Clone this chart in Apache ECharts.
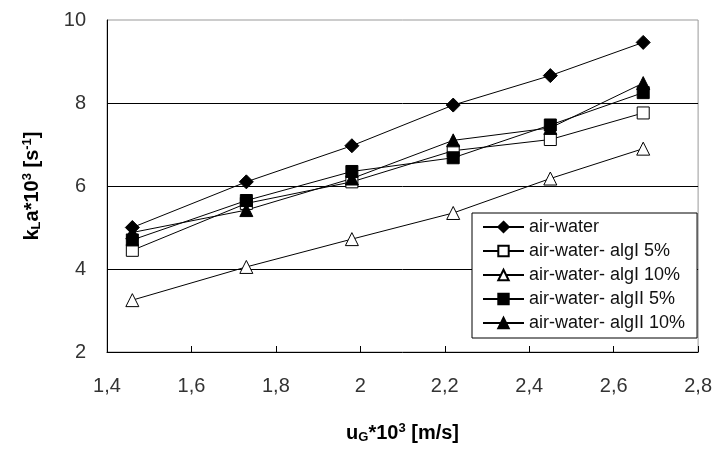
<!DOCTYPE html>
<html>
<head>
<meta charset="utf-8">
<title>kLa vs uG</title>
<script src="https://cdn.jsdelivr.net/npm/echarts@6/dist/echarts.min.js"></script>
<style>
  html, body { margin: 0; padding: 0; background: #fff; }
  #chart { width: 715px; height: 450px; }
</style>
</head>
<body>
<div id="chart"></div>
<script>
// gas velocity uG*10^3 [m/s]
var ug = [1.46, 1.73, 1.98, 2.22, 2.45, 2.67]

// kLa*10^3 [s^-1]
var airWater = [5.0, 6.1, 6.97, 7.95, 8.66, 9.46]
var algI5 = [4.45, 5.58, 6.1, 6.85, 7.12, 7.76]
var algI10 = [3.25, 4.05, 4.72, 5.35, 6.18, 6.9]
var algII5 = [4.7, 5.65, 6.35, 6.68, 7.47, 8.25]
var algII10 = [4.88, 5.42, 6.18, 7.1, 7.4, 8.48]

var seriesNames = ['air-water', 'air-water- algI 5%', 'air-water- algI 10%', 'air-water- algII 5%', 'air-water- algII 10%']

var FONT = 'Liberation Sans, Arial, sans-serif'

function pairs(ys) {
  return ug.map(function (x, i) { return [x, ys[i]] })
}

function makeSeries(name, ys, symbol, filled, size) {
  return {
    name: name,
    type: 'line',
    data: pairs(ys),
    symbol: symbol,
    symbolSize: size,
    showAllSymbol: true,
    lineStyle: { color: '#000', width: 1 },
    itemStyle: { color: filled ? '#000' : '#fff', borderColor: '#000', borderWidth: 1 },
    emphasis: { disabled: true },
    animation: false
  }
}

// bold title text with sub/superscripts
var titleRich = {
  b: { fontFamily: FONT, fontSize: 20, fontWeight: 'bold', color: '#000' },
  sub: { fontFamily: FONT, fontSize: 13, fontWeight: 'bold', color: '#000', verticalAlign: 'bottom', padding: [9, 0, 0, 0] },
  sup: { fontFamily: FONT, fontSize: 13, fontWeight: 'bold', color: '#000', verticalAlign: 'top', padding: [0, 0, 9, 0] }
}

var chart = echarts.init(document.getElementById('chart'))

chart.setOption({
  backgroundColor: '#fff',
  animation: false,
  grid: {
    left: 107, right: 15, top: 20, bottom: 98,
    show: true, borderColor: '#999', borderWidth: 1
  },
  legend: {
    left: 472, top: 213,
    orient: 'vertical',
    backgroundColor: '#fff',
    borderColor: '#000', borderWidth: 1,
    borderRadius: 0,
    padding: [5, 12, 6, 10],
    itemGap: 6,
    itemWidth: 41, itemHeight: 13,
    textStyle: { fontFamily: FONT, fontSize: 18, color: '#111' },
    data: seriesNames
  },
  xAxis: {
    type: 'value',
    min: 1.4, max: 2.8, interval: 0.2,
    axisLine: { onZero: false, lineStyle: { color: '#000', width: 1 } },
    axisTick: { inside: true, length: 6, lineStyle: { color: '#000' } },
    splitLine: { show: false },
    axisLabel: {
      margin: 24,
      fontFamily: FONT, fontSize: 20, color: '#333',
      formatter: function (v) { return String(Math.round(v * 10) / 10).replace('.', ',') }
    },
    name: '{b|u}{sub|G}{b|*10}{sup|3}{b| [m/s]}',
    nameLocation: 'middle',
    nameGap: 70,
    nameTextStyle: { rich: titleRich }
  },
  yAxis: {
    type: 'value',
    min: 2, max: 10, interval: 2,
    axisLine: { show: true, onZero: false, lineStyle: { color: '#000', width: 1 } },
    axisTick: { show: false },
    splitLine: { show: true, showMinLine: false, showMaxLine: false, lineStyle: { color: '#000', width: 1 } },
    axisLabel: { margin: 21, fontFamily: FONT, fontSize: 20, color: '#333' },
    name: '{b|k}{sub|L}{b|a*10}{sup|3}{b| [s}{sup|-1}{b|]}',
    nameLocation: 'middle',
    nameGap: 64,
    nameTextStyle: { rich: titleRich }
  },
  series: [
    makeSeries(seriesNames[0], airWater, 'diamond', true, 14),
    makeSeries(seriesNames[1], algI5, 'rect', false, 12),
    makeSeries(seriesNames[2], algI10, 'triangle', false, 13),
    makeSeries(seriesNames[3], algII5, 'rect', true, 12),
    makeSeries(seriesNames[4], algII10, 'triangle', true, 13)
  ]
})
</script>
</body>
</html>
